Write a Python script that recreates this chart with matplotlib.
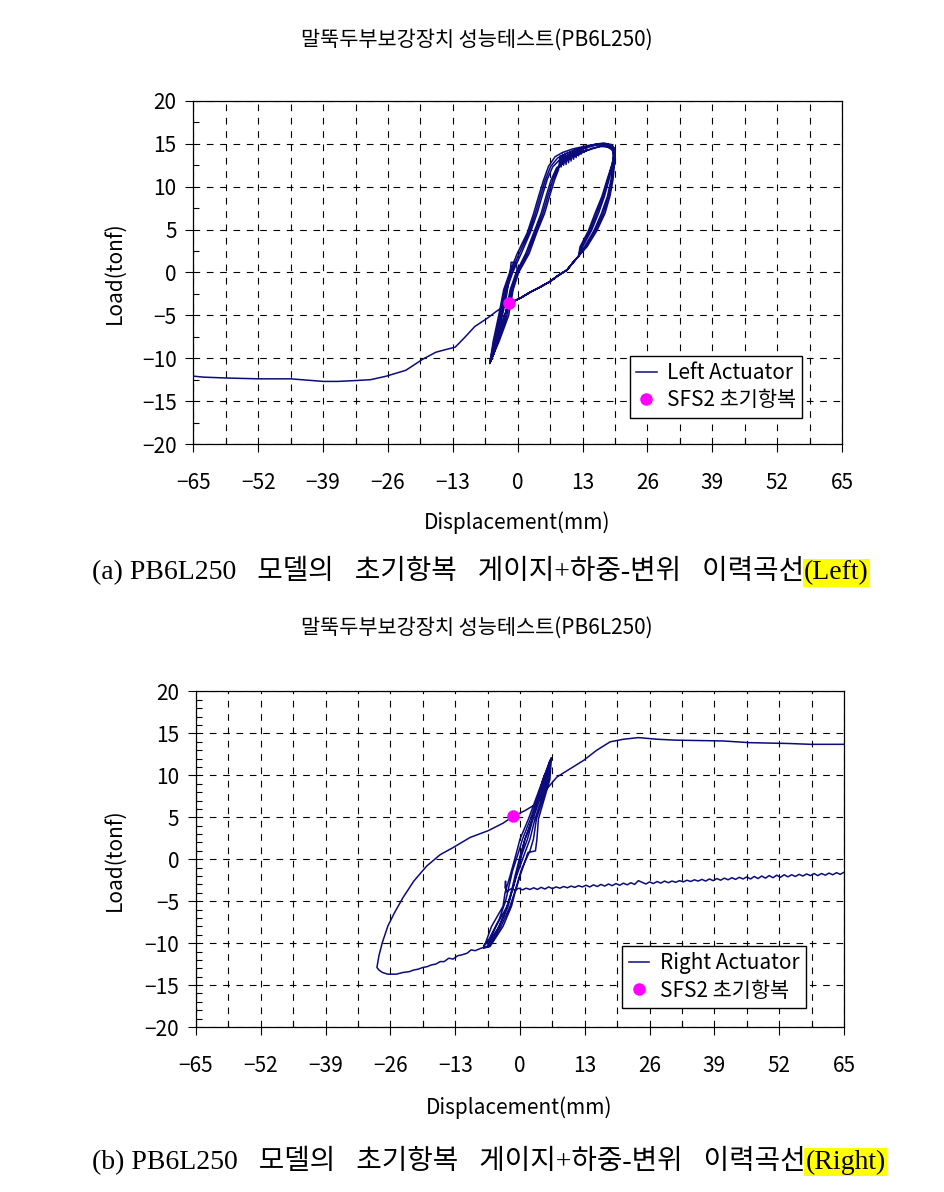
import matplotlib
matplotlib.use("Agg")
import matplotlib.pyplot as plt
from matplotlib.ticker import MultipleLocator
from matplotlib.lines import Line2D
import numpy as np

plt.rcParams["font.family"] = ["Noto Sans CJK KR", "DejaVu Sans"]
plt.rcParams["axes.unicode_minus"] = True

TITLE = "말뚝두부보강장치 성능테스트(PB6L250)"
XLABEL = "Displacement(mm)"
YLABEL = "Load(tonf)"
DOT_LABEL = "SFS2 초기항복"
CAPTION_A = "(a) PB6L250   모델의   초기항복   게이지+하중-변위   이력곡선"
CAPTION_B = "(b) PB6L250   모델의   초기항복   게이지+하중-변위   이력곡선"

# ---- left actuator (top panel), (disp, load) segments in test order ----
left_start = [(0.0, 0.0), (-0.3, 1.1), (-1.3, 1.2), (-1.5, 0.1), (-2.2, -2.6),
              (-3.4, -6.0), (-4.7, -9.2), (-5.6, -10.6)]
left_up_1 = [(-4.9, -8.0), (-3.8, -5.0), (-2.8, -2.0), (-1.6, 0.0), (-0.1, 2.2),
             (1.9, 4.6), (3.2, 6.9), (4.2, 8.9), (5.2, 10.8), (6.2, 12.4), (7.5, 13.5),
             (9.0, 14.0), (11.0, 14.4), (14.0, 14.8), (17.2, 15.1), (18.9, 14.9), (19.5, 14.3)]
left_down_1 = [(19.5, 13.2), (19.1, 10.8), (18.5, 8.9), (17.5, 6.9), (15.9, 4.9),
               (13.9, 3.0), (12.2, 1.9)]
left_back = [(11.0, 1.1), (9.9, 0.3), (8.0, -0.4), (6.5, -1.05), (4.5, -1.7), (2.5, -2.3),
             (0.5, -3.0), (-1.8, -3.6), (-2.8, -5.4), (-3.9, -7.8), (-4.9, -9.6), (-5.6, -10.6)]
left_up_2 = [(-4.7, -8.0), (-3.5, -5.0), (-2.5, -2.0), (-1.3, 0.0), (0.3, 2.2), (2.2, 4.6),
             (3.55, 6.9), (4.55, 8.9), (5.55, 10.8), (6.6, 12.35), (8.0, 13.35), (9.8, 13.9),
             (12.0, 14.4), (15.0, 14.85), (17.8, 15.0), (19.45, 14.4)]
left_down_2 = [(19.45, 13.6), (18.9, 10.8), (18.25, 8.9), (17.15, 6.9), (15.6, 4.9),
               (13.65, 3.0), (12.2, 1.9)]
left_up_3 = [(-4.5, -8.0), (-3.2, -5.0), (-2.2, -2.0), (-1.0, 0.0), (0.7, 2.2), (2.5, 4.6),
             (3.9, 6.9), (4.9, 8.9), (5.9, 10.8), (7.0, 12.3), (8.5, 13.2), (10.5, 13.8),
             (13.0, 14.4), (16.0, 14.9), (18.5, 14.8), (19.4, 14.0)]
left_down_3 = [(19.3, 13.0), (18.7, 10.8), (18.0, 8.9), (16.8, 6.9), (15.3, 4.9),
               (13.4, 3.0), (12.2, 1.9)]
left_up_4 = [(-4.1, -8.0), (-2.5, -5.0), (-1.5, -2.0), (-0.3, 0.0), (1.6, 2.2), (3.2, 4.6),
             (4.7, 6.9), (5.7, 8.9), (6.7, 10.8), (7.8, 12.2), (9.5, 13.0), (11.5, 13.6),
             (13.8, 14.2), (16.5, 14.7), (18.8, 14.6), (19.3, 13.6)]
left_down_4 = [(19.1, 12.8), (18.3, 10.8), (17.4, 8.9), (16.2, 6.9), (14.8, 4.9),
               (13.0, 3.0), (12.2, 1.9)]
left_up_5 = [(-3.9, -8.0), (-2.15, -5.0), (-1.2, -2.0), (-0.05, 0.0), (1.95, 2.2), (3.5, 4.6),
             (5.05, 6.9), (6.05, 8.9), (7.05, 10.8), (8.0, 12.1), (9.0, 12.7), (10.5, 13.3),
             (12.5, 13.9), (15.0, 14.5), (17.5, 14.8), (19.2, 14.2)]
left_down_5 = [(19.0, 12.7), (18.1, 10.8), (17.15, 8.9), (15.85, 6.9), (14.5, 4.9),
               (12.75, 3.0), (12.2, 1.9)]
left_up_6 = [(-3.7, -8.0), (-1.8, -5.0), (-0.9, -2.0), (0.2, 0.0), (2.3, 2.2), (3.8, 4.6),
             (5.4, 6.9), (6.4, 8.9), (7.4, 10.8), (8.2, 12.0), (8.5, 13.6), (8.7, 12.3),
             (9.0, 13.8), (9.2, 12.5), (9.5, 13.9), (9.7, 12.6), (10.0, 14.0), (10.2, 12.8),
             (10.5, 14.1), (10.7, 13.0), (11.0, 14.2), (11.2, 13.2), (11.5, 14.3), (11.7, 13.4),
             (12.0, 14.4), (12.2, 13.6), (12.5, 14.5), (12.7, 13.8), (13.0, 14.6), (13.3, 14.0),
             (14.0, 14.7), (16.0, 15.0), (18.0, 15.0), (19.2, 14.6), (19.4, 13.8)]
left_down_6 = [(18.9, 12.6), (17.9, 10.8), (16.9, 8.9), (15.5, 6.9), (14.2, 4.9),
               (12.5, 3.0), (12.2, 1.9)]
left_final = [(11.0, 1.1), (9.9, 0.3), (8.0, -0.4), (6.5, -1.05), (4.5, -1.7), (2.5, -2.3),
              (0.5, -3.0), (-1.8, -3.6), (-4.2, -4.5), (-6.0, -5.3), (-8.6, -6.3),
              (-10.5, -7.5), (-12.5, -8.7), (-14.5, -9.0), (-16.4, -9.3), (-19.0, -10.1),
              (-22.4, -11.4), (-26.4, -12.1), (-29.5, -12.5), (-32.5, -12.6), (-36.0, -12.7),
              (-39.0, -12.7), (-45.5, -12.4), (-52.0, -12.4), (-58.5, -12.3), (-63.0, -12.2),
              (-66.5, -12.0)]
left_dot = (-1.8, -3.6)

# ---- right actuator (bottom panel) ----
right_up_0 = [(0.0, 0.0), (1.0, 2.4), (2.5, 4.8), (4.6, 9.5), (6.0, 11.5), (6.3, 12.1)]
right_down_1 = [(6.0, 9.5), (3.7, 4.8), (3.4, 2.4), (3.1, 1.0), (1.6, 0.8), (0.0, -2.0),
                (-1.0, -4.0), (-1.7, -5.6), (-3.4, -8.0), (-6.0, -10.4), (-7.3, -10.6)]
right_up_1 = [(-5.7, -8.0), (-3.4, -5.6), (-3.0, -4.0), (-2.0, -2.0), (-0.7, 0.8), (0.0, 2.4),
              (1.7, 4.8), (4.6, 9.5), (5.9, 11.6), (6.2, 12.0)]
right_down_2 = [(5.6, 9.5), (3.0, 4.8), (2.0, 2.4), (1.0, 0.8), (-0.7, -2.0), (-1.7, -4.0),
                (-2.4, -5.6), (-4.2, -8.0), (-6.6, -10.4)]
right_up_2 = [(-4.8, -8.0), (-2.6, -5.6), (-1.8, -4.0), (-1.0, -2.0), (0.2, 0.8), (1.0, 2.4),
              (2.5, 4.8), (5.0, 9.5), (6.1, 11.8)]
right_down_3 = [(5.3, 9.5), (2.6, 4.8), (1.5, 2.4), (0.5, 0.8), (-0.4, -1.0), (-1.3, -3.2),
                (-2.2, -5.0), (-3.3, -6.8), (-4.5, -8.4), (-5.8, -9.6), (-7.3, -10.3)]
right_up_3 = [(-6.2, -9.5), (-4.2, -7.2), (-2.9, -5.0), (-2.2, -3.2), (-1.5, -1.4),
              (-0.3, 0.8), (0.5, 2.4), (2.1, 4.8), (4.8, 9.5), (6.0, 11.7)]
right_down_4 = [(5.8, 9.5), (3.3, 4.8), (2.7, 2.4), (2.0, 1.0), (0.3, -1.2), (-0.9, -3.6),
                (-2.0, -5.6), (-3.8, -8.0), (-6.3, -10.4), (-7.3, -10.5)]
right_push = [(-8.2, -10.7), (-9.0, -10.9), (-9.8, -10.8), (-10.6, -11.2), (-11.7, -11.4),
              (-12.5, -11.5), (-13.4, -11.9), (-14.3, -11.8), (-15.2, -12.2), (-16.0, -12.2),
              (-16.9, -12.5), (-17.8, -12.6), (-18.6, -12.8), (-19.5, -12.9), (-20.4, -13.1),
              (-21.3, -13.2), (-22.2, -13.4), (-23.5, -13.5), (-24.8, -13.7), (-26.5, -13.7),
              (-27.6, -13.5), (-28.3, -13.2), (-28.7, -12.9)]
right_reload = [(-28.3, -11.5), (-27.6, -9.9), (-26.5, -7.95), (-25.2, -6.4), (-23.5, -4.6),
                (-21.3, -2.6), (-18.7, -0.8), (-16.0, 0.55), (-13.4, 1.4), (-10.0, 2.6),
                (-6.4, 3.4), (-3.4, 4.3), (-1.4, 5.1), (1.0, 5.8), (2.7, 6.4), (4.3, 7.3),
                (5.4, 8.4), (7.4, 9.8), (10.1, 10.8), (12.8, 11.8), (15.4, 13.0), (18.1, 14.0),
                (20.7, 14.3), (23.7, 14.5), (27.7, 14.3), (31.2, 14.2), (40.8, 14.1),
                (46.0, 13.9), (53.9, 13.8), (58.3, 13.7), (66.6, 13.7)]
right_unload = [(66.5, -1.6), (65.75, -1.75), (65.0, -1.55), (64.25, -1.8), (63.5, -1.6),
                (62.75, -1.85), (62.0, -1.65), (61.25, -1.9), (60.5, -1.7), (59.75, -1.95),
                (59.0, -1.7), (58.25, -1.95), (57.5, -1.75), (56.75, -2.0), (56.0, -1.8),
                (55.25, -2.05), (54.5, -1.85), (53.75, -2.1), (53.0, -1.85), (52.25, -2.15),
                (51.5, -1.9), (50.75, -2.2), (50.0, -1.95), (49.25, -2.25), (48.5, -2.0),
                (47.75, -2.3), (47.0, -2.05), (46.25, -2.35), (45.5, -2.1), (44.75, -2.35),
                (44.0, -2.15), (43.25, -2.4), (42.5, -2.2), (41.75, -2.45), (41.0, -2.25),
                (40.25, -2.5), (39.5, -2.3), (38.75, -2.55), (38.0, -2.35), (37.25, -2.6),
                (36.5, -2.4), (35.75, -2.6), (35.0, -2.45), (34.25, -2.65), (33.5, -2.5),
                (32.75, -2.7), (32.0, -2.55), (31.25, -2.75), (30.5, -2.6), (29.75, -2.8),
                (29.0, -2.6), (28.25, -2.85), (27.5, -2.65), (26.75, -2.9), (26.0, -2.7),
                (25.25, -2.95), (24.5, -2.75), (23.75, -2.55), (23.0, -3.0), (22.25, -2.8),
                (21.5, -3.05), (20.75, -2.85), (20.0, -3.1), (19.25, -2.9), (18.5, -3.15),
                (17.75, -2.95), (17.0, -3.2), (16.25, -3.0), (15.5, -3.25), (14.75, -3.05),
                (14.0, -3.3), (13.25, -3.1), (12.5, -3.3), (11.75, -3.15), (11.0, -3.35),
                (10.25, -3.2), (9.5, -3.4), (8.75, -3.25), (8.0, -3.45), (7.25, -3.3),
                (6.5, -3.5), (5.75, -3.3), (5.0, -3.55), (4.25, -3.35), (3.5, -3.6),
                (2.75, -3.4), (2.0, -3.6), (1.25, -3.45), (0.5, -3.65), (-0.25, -3.45),
                (-1.0, -3.7), (-1.75, -3.5), (-2.5, -3.8), (-2.8, -3.9), (-2.9, -2.6),
                (-3.0, -3.4)]
right_dot = (-1.45, 5.1)

LINE_COLOR = "#0b0b7a"
DOT_COLOR = "#ff00ff"

left_segments = [left_start, left_up_1, left_down_1, left_back, left_up_2, left_down_2,
                 left_back, left_up_3, left_down_3, left_back, left_up_4, left_down_4,
                 left_back, left_up_5, left_down_5, left_back, left_up_6, left_down_6,
                 left_final]
right_segments = [right_up_0, right_down_1, right_up_1, right_down_2, right_up_2,
                  right_down_3, right_up_3, right_down_4, right_push, right_reload,
                  right_unload]


def draw_panel(ax, segments, dot, label, minor_y, legend_anchor):
    pts = np.array([p for seg in segments for p in seg])
    ax.plot(pts[:, 0], pts[:, 1], color=LINE_COLOR, lw=1.1, zorder=3)
    ax.plot([dot[0]], [dot[1]], "o", color=DOT_COLOR, ms=9, mec="none", zorder=4)

    ax.set_xlim(-65, 65)
    ax.set_ylim(-20, 20)
    ax.xaxis.set_major_locator(MultipleLocator(13))
    ax.xaxis.set_minor_locator(MultipleLocator(6.5))
    ax.yaxis.set_major_locator(MultipleLocator(5))
    ax.yaxis.set_minor_locator(MultipleLocator(minor_y))

    ax.set_axisbelow(True)
    ax.grid(which="both", axis="x", color="k", lw=0.8, ls=(0, (6, 6)))
    ax.grid(which="major", axis="y", color="k", lw=0.8, ls=(0, (6, 6)))
    for sp in ax.spines.values():
        sp.set_linewidth(0.9)
        sp.set_color("k")

    ax.tick_params(which="major", direction="out", length=6, width=0.8, labelsize=15)
    ax.tick_params(which="minor", direction="in", length=4, width=0.8)
    ax.tick_params(axis="x", which="major", pad=14)
    ax.tick_params(axis="y", which="major", pad=6)

    handles = [Line2D([], [], color=LINE_COLOR, lw=1.1),
               Line2D([], [], ls="none", marker="o", color=DOT_COLOR, ms=9, mec="none")]
    leg = ax.legend(handles, [label, DOT_LABEL], loc="lower right",
                    bbox_to_anchor=legend_anchor, fontsize=15, frameon=True,
                    fancybox=False, edgecolor="k", framealpha=1, handlelength=1.0,
                    handletextpad=0.5, borderpad=0.3, labelspacing=0.25, borderaxespad=0)
    leg.get_frame().set_linewidth(1.0)


fig = plt.figure(figsize=(9.45, 11.92), dpi=100)
ax1 = fig.add_axes([0.2046, 0.6275, 0.6864, 0.2878])
ax2 = fig.add_axes([0.2074, 0.1384, 0.6857, 0.2815])

draw_panel(ax1, left_segments, left_dot, "Left Actuator", 2.5, (0.939, 0.077))
draw_panel(ax2, right_segments, right_dot, "Right Actuator", 1, (0.941, 0.057))

fig.text(0.5048, 0.9664, TITLE, ha="center", va="center", fontsize=15)
fig.text(0.5048, 0.4732, TITLE, ha="center", va="center", fontsize=15)
fig.text(0.547, 0.5612, XLABEL, ha="center", va="center", fontsize=15)
fig.text(0.549, 0.0705, XLABEL, ha="center", va="center", fontsize=15)
fig.text(0.1217, 0.771, YLABEL, ha="center", va="center", rotation=90, fontsize=15)
fig.text(0.1217, 0.2785, YLABEL, ha="center", va="center", rotation=90, fontsize=15)

serif = ["Liberation Serif", "Noto Sans CJK KR"]
for ypos, cap, tag in [(0.521, CAPTION_A, "(Left)"), (0.0268, CAPTION_B, "(Right)")]:
    t = fig.text(0.0974, ypos, cap, ha="left", va="center", fontsize=20, family=serif)
    ax1.annotate(tag, xy=(1, 0), xycoords=t, ha="left", va="bottom", fontsize=20,
                 family=serif, annotation_clip=False,
                 bbox=dict(boxstyle="square,pad=0.05", fc="#ffff00", ec="none"))

fig.savefig("out.png", dpi=100)
